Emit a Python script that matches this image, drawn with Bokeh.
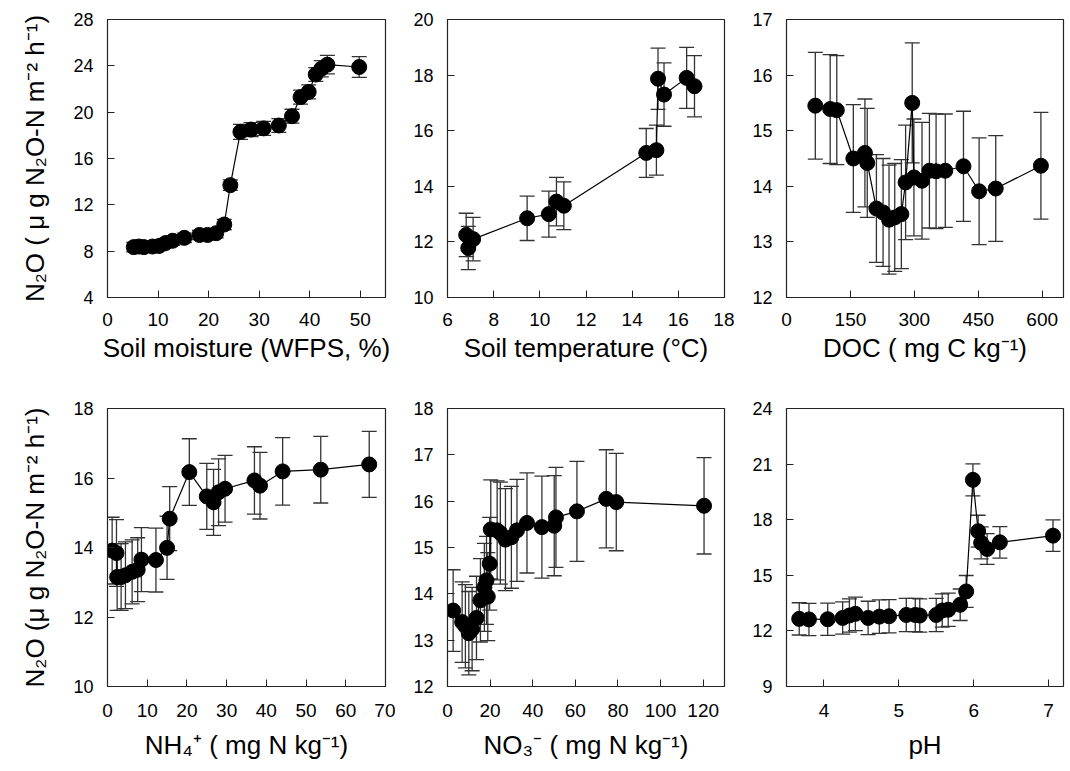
import numpy as np
from bokeh.plotting import figure
from bokeh.models import ColumnDataSource, Whisker, TeeHead, FixedTicker, Range1d
from bokeh.layouts import row, column
from bokeh.embed import file_html
from bokeh.resources import INLINE

# ---------------- data ----------------
moist_x = [5.2, 6.2, 7.2, 8.9, 10.2, 11.5, 12.9, 15.2, 18.2, 19.8, 21.5, 23.1, 24.3, 26.3,
           28.4, 30.9, 33.9, 36.5, 38.2, 39.8, 41.2, 42.3, 43.5, 49.8]
moist_y = [8.35, 8.4, 8.35, 8.4, 8.45, 8.7, 8.9, 9.15, 9.4, 9.4, 9.55, 10.3, 13.7, 18.3,
           18.5, 18.6, 18.85, 19.65, 21.3, 21.75, 23.25, 23.75, 24.1, 23.9]
moist_e = [0.4, 0.4, 0.4, 0.4, 0.4, 0.4, 0.4, 0.4, 0.4, 0.4, 0.4, 0.45, 0.45, 0.65,
           0.6, 0.6, 0.6, 0.6, 0.6, 0.6, 0.6, 0.7, 0.8, 0.9]

temp_x = [6.81, 6.9, 7.11, 9.45, 10.39, 10.72, 11.04, 14.61, 15.05, 15.12, 15.38, 16.36, 16.7]
temp_y = [12.25, 11.78, 12.1, 12.85, 13.0, 13.45, 13.3, 15.2, 15.3, 17.87, 17.3, 17.9, 17.6]
temp_e = [0.78, 0.78, 0.78, 0.8, 0.83, 0.87, 0.86, 0.88, 0.9, 1.1, 1.14, 1.1, 1.1]

doc_x = [67.6, 102.5, 118, 156.8, 184, 189.5, 211, 226.6, 240.6, 254, 269.5, 279.5, 295, 299,
         318, 335.4, 351, 372.6, 415.3, 452, 491, 597]
doc_y = [15.45, 15.39, 15.37, 14.5, 14.6, 14.42, 13.6, 13.53, 13.4, 13.44, 13.5, 14.07, 15.5,
         14.16, 14.1, 14.28, 14.27, 14.28, 14.36, 13.91, 13.96, 14.37]
doc_e = [0.96, 0.98, 0.98, 0.97, 0.97, 0.98, 0.97, 0.97, 0.98, 0.97, 0.98, 1.03, 1.08, 1.05,
         1.05, 1.03, 1.03, 1.02, 0.99, 0.96, 0.95, 0.96]

nh4_x = [1.17, 2.26, 2.43, 3.43, 4.52, 6.2, 7.6, 8.54, 12.2, 15.0, 15.66, 20.6, 25.0, 26.7,
         27.97, 29.6, 37.0, 38.4, 44.1, 53.7, 65.9]
nh4_y = [13.91, 13.84, 13.15, 13.15, 13.2, 13.3, 13.36, 13.65, 13.64, 13.99, 14.83, 16.17,
         15.47, 15.3, 15.59, 15.69, 15.93, 15.78, 16.19, 16.24, 16.39]
nh4_e = [0.96, 0.96, 0.96, 0.96, 0.96, 0.92, 0.92, 0.92, 0.92, 0.91, 0.92, 0.96, 0.95, 0.95,
         0.96, 0.96, 0.97, 0.96, 0.97, 0.96, 0.95]

no3_x = [2.65, 6.87, 8.4, 10.0, 11.55, 13.6, 15.46, 17.3, 18.3, 18.9, 19.8, 20.3, 23.3, 24.8,
         27.2, 29.98, 32.6, 37.3, 44.3, 50.1, 50.9, 60.75, 74.5, 79.2, 120.4]
no3_y = [13.64, 13.39, 13.3, 13.15, 13.24, 13.48, 13.86, 14.14, 14.29, 13.94, 14.65, 15.39,
         15.37, 15.31, 15.17, 15.22, 15.37, 15.53, 15.44, 15.47, 15.65, 15.78, 16.05, 15.98, 15.9]
no3_e = [0.88, 0.87, 0.9, 0.9, 0.9, 0.9, 0.9, 0.95, 0.95, 0.95, 1.0, 1.07, 1.07, 1.1, 1.1,
         1.1, 1.1, 1.08, 1.1, 1.08, 1.08, 1.08, 1.06, 1.05, 1.04]

ph_x = [3.67, 3.8, 4.05, 4.25, 4.34, 4.42, 4.59, 4.74, 4.87, 5.1, 5.22, 5.28, 5.5, 5.58, 5.66,
        5.82, 5.9, 5.99, 6.06, 6.1, 6.18, 6.35, 7.06]
ph_y = [12.65, 12.62, 12.63, 12.7, 12.83, 12.92, 12.7, 12.77, 12.79, 12.86, 12.86, 12.83, 12.86,
        13.1, 13.14, 13.41, 14.13, 20.15, 17.38, 16.75, 16.42, 16.78, 17.14]
ph_e = [0.87, 0.87, 0.87, 0.87, 0.9, 0.9, 0.9, 0.9, 0.9, 0.9, 0.9, 0.9, 0.9, 0.9, 0.9, 0.85,
        0.86, 0.86, 0.86, 0.86, 0.83, 0.85, 0.85]

moist_xticks = [0, 10, 20, 30, 40, 50]
temp_xticks = [6, 8, 10, 12, 14, 16, 18]
doc_xticks = [0, 150, 300, 450, 600]
nh4_xticks = [0, 10, 20, 30, 40, 50, 60, 70]
no3_xticks = [0, 20, 40, 60, 80, 100, 120]
ph_xticks = [4, 5, 6, 7]

moist_yticks = [4, 8, 12, 16, 20, 24, 28]
temp_yticks = [10, 12, 14, 16, 18, 20]
doc_yticks = [12, 13, 14, 15, 16, 17]
nh4_yticks = [10, 12, 14, 16, 18]
no3_yticks = [12, 13, 14, 15, 16, 17, 18]
ph_yticks = [9, 12, 15, 18, 21, 24]

ylabel_top = "N\u2082O ( \u03bc g N\u2082O-N m\u207b\u00b2 h\u207b\u00b9)"
ylabel_bot = "N\u2082O (\u03bc g N\u2082O-N m\u207b\u00b2 h\u207b\u00b9)"

FONT = "Liberation Sans"


def panel(xs, ys, es, xr, yr, xt, yt, xlabel, ylabel, fw, left, right, top, bottom,
          tick_standoff, xlab_standoff):
    p = figure(frame_width=fw, frame_height=278, x_range=Range1d(*xr), y_range=Range1d(*yr),
               output_backend="svg", toolbar_location=None,
               min_border_left=left, min_border_right=right,
               min_border_top=top, min_border_bottom=bottom)
    p.grid.visible = False
    p.outline_line_color = "#222222"
    p.outline_line_width = 1.2
    p.background_fill_color = "white"
    p.border_fill_color = "white"
    for ax, ticks in ((p.xaxis[0], xt), (p.yaxis[0], yt)):
        ax.ticker = FixedTicker(ticks=ticks, minor_ticks=[])
        ax.major_tick_in = 7
        ax.major_tick_out = 0
        ax.minor_tick_in = 0
        ax.minor_tick_out = 0
        ax.axis_line_color = "#222222"
        ax.major_tick_line_color = "#222222"
        ax.major_label_text_font = FONT
        ax.major_label_text_color = "black"
        ax.axis_label_text_font = FONT
        ax.axis_label_text_font_style = "normal"
        ax.axis_label_text_color = "black"
    p.xaxis.major_label_text_font_size = "19px"
    p.yaxis.major_label_text_font_size = "18px"
    p.xaxis.major_label_standoff = tick_standoff
    p.yaxis.major_label_standoff = 14
    p.xaxis.axis_label = xlabel
    p.xaxis.axis_label_text_font_size = "26px"
    p.xaxis.axis_label_standoff = xlab_standoff
    if ylabel:
        p.yaxis.axis_label = ylabel
        p.yaxis.axis_label_text_font_size = "26px"
        p.yaxis.axis_label_standoff = 20

    order = np.argsort(np.array(xs), kind="stable")
    lx = [xs[i] for i in order]
    ly = [ys[i] for i in order]
    p.line(lx, ly, line_color="black", line_width=1.2)

    src = ColumnDataSource(dict(x=xs, y=ys,
                                lo=[y - e for y, e in zip(ys, es)],
                                hi=[y + e for y, e in zip(ys, es)]))
    w = Whisker(source=src, base="x", upper="hi", lower="lo", dimension="height",
                line_color="#333333", line_width=1.3,
                upper_head=TeeHead(size=15, line_color="#333333", line_width=1.3),
                lower_head=TeeHead(size=15, line_color="#333333", line_width=1.3))
    p.add_layout(w)
    p.scatter("x", "y", source=src, size=15, fill_color="black", line_color="black")
    return p


p1 = panel(moist_x, moist_y, moist_e, (0, 55), (4, 28), moist_xticks, moist_yticks,
           "Soil moisture (WFPS, %)", ylabel_top, 278, 107, 10, 19, 91, 15, 4)
p2 = panel(temp_x, temp_y, temp_e, (6, 18), (10, 20), temp_xticks, temp_yticks,
           "Soil temperature (\u00b0C)", None, 277, 52, 10, 19, 91, 15, 4)
p3 = panel(doc_x, doc_y, doc_e, (0, 650), (12, 17), doc_xticks, doc_yticks,
           "DOC ( mg C kg\u207b\u00b9)", None, 277, 52, 5, 19, 91, 15, 4)
p4 = panel(nh4_x, nh4_y, nh4_e, (0, 70), (10, 18), nh4_xticks, nh4_yticks,
           "NH\u2084\u207a ( mg N kg\u207b\u00b9)", ylabel_bot, 278, 107, 10, 20, 84, 17, 10)
p5 = panel(no3_x, no3_y, no3_e, (0, 130), (12, 18), no3_xticks, no3_yticks,
           "NO\u2083\u207b ( mg N kg\u207b\u00b9)", None, 277, 52, 10, 20, 84, 17, 10)
p6 = panel(ph_x, ph_y, ph_e, (3.5, 7.2), (9, 24), ph_xticks, ph_yticks,
           "pH", None, 277, 52, 5, 20, 84, 17, 10)

layout = column(row(p1, p2, p3), row(p4, p5, p6))
open("out.html", "w").write(file_html(layout, INLINE))
